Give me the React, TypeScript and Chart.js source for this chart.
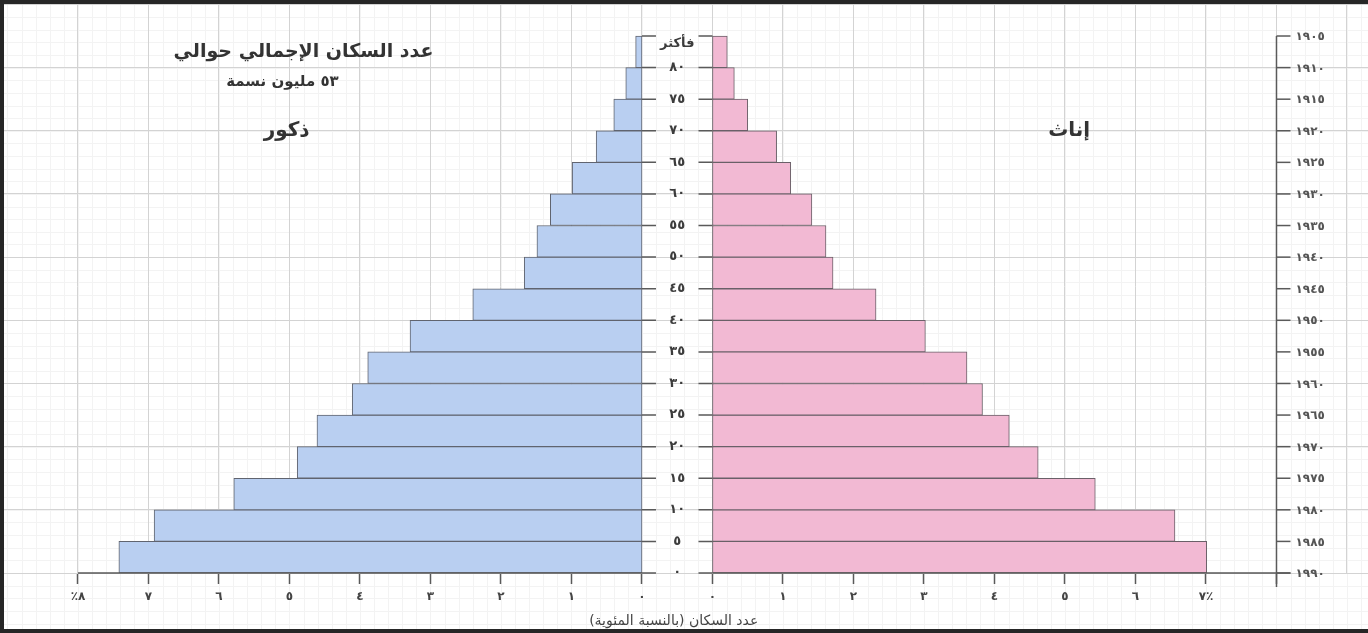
import React, { useEffect, useRef } from 'react';
import { Chart, registerables } from 'chart.js';

Chart.register(...registerables);

// ---- data ----
const ageBands = ['0-4', '5-9', '10-14', '15-19', '20-24', '25-29', '30-34', '35-39', '40-44', '45-49', '50-54', '55-59', '60-64', '65-69', '70-74', '75-79', '80+'];
const ageBandStarts = [0, 5, 10, 15, 20, 25, 30, 35, 40, 45, 50, 55, 60, 65, 70, 75, 80];
const maleShares = [7.42, 6.92, 5.79, 4.89, 4.61, 4.11, 3.89, 3.29, 2.4, 1.67, 1.49, 1.3, 0.99, 0.65, 0.4, 0.23, 0.09];
const femaleShares = [7.01, 6.56, 5.43, 4.62, 4.21, 3.83, 3.61, 3.02, 2.32, 1.71, 1.61, 1.41, 1.11, 0.91, 0.5, 0.31, 0.21];

const ageBoundaries = [0, 5, 10, 15, 20, 25, 30, 35, 40, 45, 50, 55, 60, 65, 70, 75, 80, 85];
const ageTickLabels = ['٠', '٥', '١٠', '١٥', '٢٠', '٢٥', '٣٠', '٣٥', '٤٠', '٤٥', '٥٠', '٥٥', '٦٠', '٦٥', '٧٠', '٧٥', '٨٠', 'فأكثر'];
const yearTickLabels = ['١٩٩٠', '١٩٨٥', '١٩٨٠', '١٩٧٥', '١٩٧٠', '١٩٦٥', '١٩٦٠', '١٩٥٥', '١٩٥٠', '١٩٤٥', '١٩٤٠', '١٩٣٥', '١٩٣٠', '١٩٢٥', '١٩٢٠', '١٩١٥', '١٩١٠', '١٩٠٥'];

const maleAxisValues = [0, 1, 2, 3, 4, 5, 6, 7, 8];
const maleAxisLabels = ['٠', '١', '٢', '٣', '٤', '٥', '٦', '٧', '٪٨'];
const femaleAxisValues = [0, 1, 2, 3, 4, 5, 6, 7];
const femaleAxisLabels = ['٠', '١', '٢', '٣', '٤', '٥', '٦', '٧٪'];
const yearAxisAt = 8; // in female percent units
const extraGridAt = 9;

const titleLine1 = 'عدد السكان الإجمالي حوالي';
const titleLine2 = '٥٣ مليون نسمة';
const maleLabel = 'ذكور';
const femaleLabel = 'إناث';
const axisTitle = 'عدد السكان (بالنسبة المئوية)';

const GAP = 0.5; // half of the central gap, in percent units

const ARABIC_FONT = '"DejaVu Sans", sans-serif';

export default function App() {
  const canvasRef = useRef<HTMLCanvasElement | null>(null);

  useEffect(() => {
    document.body.style.margin = '0';
    const canvas = canvasRef.current;
    if (!canvas) return;

    const maleX = (v: number) => -(v + GAP);
    const femaleX = (v: number) => v + GAP;

    const tickLabelFor = (value: number) => {
      for (let i = 0; i < maleAxisValues.length; i++) {
        if (Math.abs(maleX(maleAxisValues[i]) - value) < 1e-6) return maleAxisLabels[i];
      }
      for (let i = 0; i < femaleAxisValues.length; i++) {
        if (Math.abs(femaleX(femaleAxisValues[i]) - value) < 1e-6) return femaleAxisLabels[i];
      }
      return '';
    };

    const paper = {
      id: 'paper',
      beforeDraw(chart: any) {
        const ctx = chart.ctx as CanvasRenderingContext2D;
        const xs = chart.scales.x;
        const ys = chart.scales.y;
        ctx.save();
        ctx.fillStyle = '#ffffff';
        ctx.fillRect(0, 0, chart.width, chart.height);
        ctx.strokeStyle = '#f3f3f3';
        ctx.lineWidth = 1;
        ctx.beginPath();
        for (let v = -9.5; v <= 9.8; v += 0.2) {
          const px = Math.round(xs.getPixelForValue(v)) + 0.5;
          ctx.moveTo(px, 0);
          ctx.lineTo(px, chart.height);
        }
        for (let a = -10; a <= 92; a += 2) {
          const py = Math.round(ys.getPixelForValue(a)) + 0.5;
          ctx.moveTo(0, py);
          ctx.lineTo(chart.width, py);
        }
        ctx.stroke();
        ctx.restore();
      },
    };

    const overlay = {
      id: 'overlay',
      afterDatasetsDraw(chart: any) {
        const ctx = chart.ctx as CanvasRenderingContext2D;
        const xs = chart.scales.x;
        const ys = chart.scales.y;

        ctx.save();
        const cx = xs.getPixelForValue(0);
        const leftEdge = xs.getPixelForValue(maleX(0));
        const rightEdge = xs.getPixelForValue(femaleX(0));
        const yx = xs.getPixelForValue(femaleX(yearAxisAt));
        const y0 = ys.getPixelForValue(0);

        // bottom axis line (two halves)
        ctx.strokeStyle = '#5a5a5a';
        ctx.lineWidth = 1.5;
        ctx.beginPath();
        ctx.moveTo(xs.getPixelForValue(maleX(8)), y0);
        ctx.lineTo(leftEdge, y0);
        ctx.moveTo(rightEdge, y0);
        ctx.lineTo(yx + 14, y0);
        ctx.stroke();

        // center age labels with dashes
        ctx.font = 'bold 13px ' + ARABIC_FONT;
        ctx.textAlign = 'center';
        ctx.textBaseline = 'middle';
        ageBoundaries.forEach((age, i) => {
          const py = ys.getPixelForValue(age);
          const label = ageTickLabels[i];
          const isTop = i === ageBoundaries.length - 1;
          const ty = isTop ? py + 8 : py;
          const w = ctx.measureText(label).width;
          ctx.strokeStyle = '#5a5a5a';
          ctx.lineWidth = 1.5;
          ctx.beginPath();
          ctx.moveTo(leftEdge, py);
          ctx.lineTo(Math.min(cx - w / 2 - 3, leftEdge + 14), py);
          ctx.moveTo(Math.max(cx + w / 2 + 3, rightEdge - 14), py);
          ctx.lineTo(rightEdge, py);
          ctx.stroke();
          ctx.fillStyle = '#3c3c3c';
          ctx.direction = isTop ? 'rtl' : 'ltr';
          ctx.fillText(label, cx, ty);
        });
        ctx.direction = 'ltr';

        // year axis on the right
        ctx.strokeStyle = '#5a5a5a';
        ctx.lineWidth = 1.5;
        ctx.beginPath();
        ctx.moveTo(yx, ys.getPixelForValue(85));
        ctx.lineTo(yx, y0 + 14);
        ctx.stroke();
        ctx.font = 'bold 12px ' + ARABIC_FONT;
        ctx.textAlign = 'left';
        ctx.fillStyle = '#555555';
        ageBoundaries.forEach((age, i) => {
          const py = ys.getPixelForValue(age);
          ctx.beginPath();
          ctx.moveTo(yx, py);
          ctx.lineTo(yx + 14, py);
          ctx.stroke();
          ctx.fillText(yearTickLabels[i], yx + 19, py + 1);
        });

        // annotations
        ctx.direction = 'rtl';
        ctx.textAlign = 'center';
        ctx.fillStyle = '#333333';
        ctx.font = 'bold 19px ' + ARABIC_FONT;
        ctx.fillText(titleLine1, xs.getPixelForValue(maleX(4.8)), ys.getPixelForValue(82.4));
        ctx.font = 'bold 15px ' + ARABIC_FONT;
        ctx.fillText(titleLine2, xs.getPixelForValue(maleX(5.1)), ys.getPixelForValue(77.7));
        ctx.font = 'bold 20px ' + ARABIC_FONT;
        ctx.fillText(maleLabel, xs.getPixelForValue(maleX(5.04)), ys.getPixelForValue(70));
        ctx.fillText(femaleLabel, xs.getPixelForValue(femaleX(5.06)), ys.getPixelForValue(70));
        ctx.font = '14px ' + ARABIC_FONT;
        ctx.fillStyle = '#444444';
        ctx.fillText(axisTitle, xs.getPixelForValue(-0.05), chart.height - 12);
        ctx.direction = 'ltr';

        // frame (left, top, bottom)
        ctx.fillStyle = '#262626';
        ctx.fillRect(0, 0, chart.width, 4);
        ctx.fillRect(0, 0, 4, chart.height);
        ctx.fillRect(0, chart.height - 4, chart.width, 4);
        ctx.restore();
      },
    };

    const chart = new Chart(canvas, {
      type: 'bar',
      data: {
        labels: ageBands,
        datasets: [
          {
            label: maleLabel,
            data: ageBandStarts.map((s, i) => ({ x: [maleX(maleShares[i]), maleX(0)], y: s + 2.5 })) as any,
            backgroundColor: '#b9cff1',
            borderColor: '#60646f',
            borderWidth: 1,
            borderSkipped: false,
            grouped: false,
            categoryPercentage: 1,
            barPercentage: 1,
          },
          {
            label: femaleLabel,
            data: ageBandStarts.map((s, i) => ({ x: [femaleX(0), femaleX(femaleShares[i])], y: s + 2.5 })) as any,
            backgroundColor: '#f2b9d3',
            borderColor: '#6a6068',
            borderWidth: 1,
            borderSkipped: false,
            grouped: false,
            categoryPercentage: 1,
            barPercentage: 1,
          },
        ],
      },
      options: {
        indexAxis: 'y',
        animation: false,
        responsive: false,
        maintainAspectRatio: false,
        layout: { padding: 0 },
        plugins: {
          legend: { display: false },
          tooltip: { enabled: false },
          title: { display: false },
        },
        scales: {
          x: {
            type: 'linear',
            position: 'bottom',
            min: -9.606,
            max: 9.798,
            offset: false,
            afterBuildTicks: (scale: any) => {
              const vals = [
                ...maleAxisValues.map(maleX),
                ...femaleAxisValues.map(femaleX),
                femaleX(yearAxisAt),
                femaleX(extraGridAt),
              ].sort((a, b) => a - b);
              scale.ticks = vals.map((v) => ({ value: v }));
            },
            afterFit: (scale: any) => {
              scale.height = 60;
            },
            grid: {
              offset: false,
              color: '#d3d3d3',
              lineWidth: 1,
              drawTicks: true,
              tickLength: 11,
              tickColor: (c: any) => (c.tick && c.tick.value <= femaleX(yearAxisAt) + 1e-6 ? '#5a5a5a' : 'rgba(0,0,0,0)'),
              tickWidth: 1.5,
            },
            border: { display: false },
            ticks: {
              autoSkip: false,
              maxRotation: 0,
              minRotation: 0,
              padding: 6,
              color: '#444444',
              font: { family: ARABIC_FONT, size: 12, weight: 'bold' },
              callback: (value: any) => tickLabelFor(Number(value)),
            },
          },
          y: {
            type: 'linear',
            position: 'left',
            min: 0,
            max: 90.7,
            offset: false,
            afterBuildTicks: (scale: any) => {
              scale.ticks = [0, 10, 20, 30, 40, 50, 60, 70, 80, 90].map((v) => ({ value: v }));
            },
            afterFit: (scale: any) => {
              scale.width = 0;
            },
            grid: { offset: false, color: '#d3d3d3', lineWidth: 1, drawTicks: false },
            border: { display: false },
            ticks: { display: false },
          },
        },
      },
      plugins: [paper, overlay],
    } as any);

    return () => {
      chart.destroy();
    };
  }, []);

  return (
    <div style={{ width: 1368, height: 633, position: 'relative', background: '#ffffff' }}>
      <canvas ref={canvasRef} width={1368} height={633} style={{ display: 'block', width: 1368, height: 633 }} />
    </div>
  );
}
